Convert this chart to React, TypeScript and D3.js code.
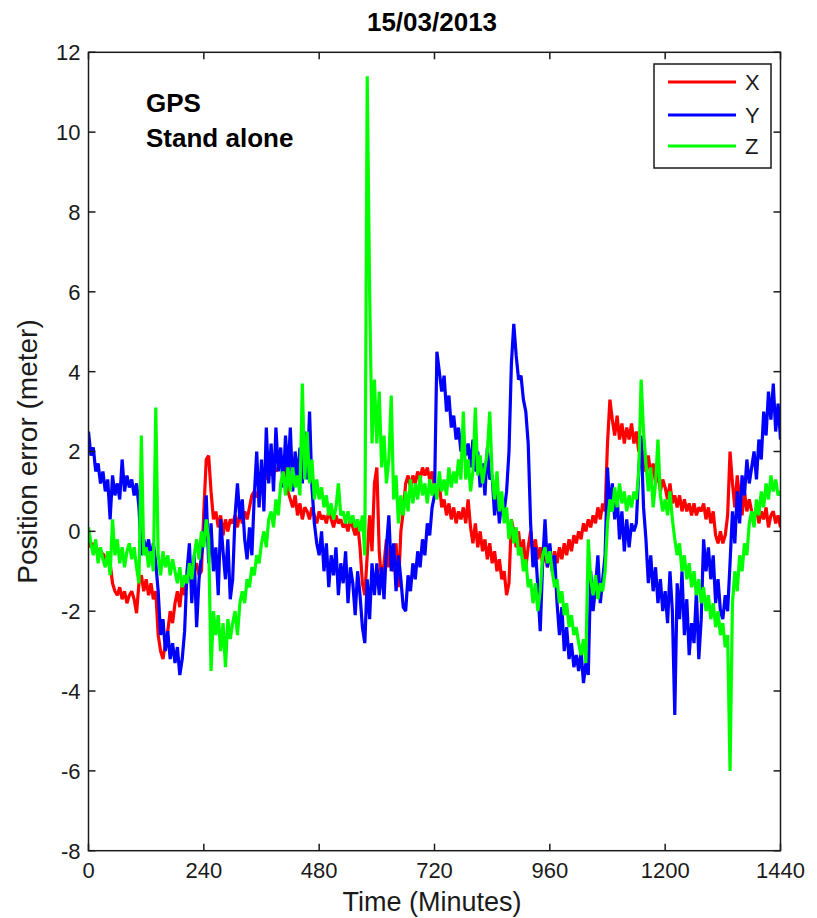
import React from "react";
import * as d3 from "d3";

// Sampling interval of the error series, in minutes
const STEP_MIN = 5;

// X component of the position error (m), one value every 5 minutes
const xErr = [
  -0.2, -0.4, -0.3, -0.5, -0.45, -0.6, -0.55, -0.7, -0.6, -0.8, -1.3, -1.5,
  -1.6, -1.4, -1.7, -1.5, -1.8, -1.6, -1.5, -1.7, -2.05, -1.3, -1.1, -1.5,
  -1.2, -1.6, -1.3, -1.7, -1.5, -2.6, -3.0, -3.2, -2.8, -2.5, -2.0, -2.3,
  -1.8, -1.5, -1.9, -1.3, -1.6, -1.2, -0.9, -1.2, -1.0, -0.8, -1.1, -1.0,
  0.5, 1.8, 1.9, 1.0, 0.3, 0.5, 0.1, 0.4, -0.1, 0.3, 0.0, 0.3,
  0.2, 0.4, 0.1, 0.5, 0.2, 0.5, 0.3, 0.6, 0.9, 1.0, 0.85, 1.1,
  1.3, 1.5, 1.3, 1.6, 1.4, 1.7, 1.5, 1.6, 1.9, 1.8, 1.6, 1.0,
  0.8, 0.6, 0.9, 0.4, 0.7, 0.3, 0.6, 0.5, 0.3, 0.6, 0.4, 0.2,
  0.5, 0.3, 0.4, 0.2, 0.5, 0.3, 0.1, 0.4, 0.2, 0.3, 0.1, 0.2,
  0.0, 0.3, 0.1, -0.1, 0.2, -0.4, -1.3, -1.6, -0.6, 0.4, -0.5, 1.2,
  1.6, -0.5, -1.3, -0.8, -0.2, -0.9, -0.4, -1.0, -0.3, -1.4, 0.0, 0.5,
  1.2, 1.4, 1.1, 1.4, 1.2, 1.5, 1.3, 1.6, 1.4, 1.6, 1.3, 1.5,
  1.1, 0.9, 1.2, 0.6, 0.8, 0.4, 0.7, 0.3, 0.6, 0.2, 0.5, 0.3,
  0.6, 0.2, 0.8, 0.1, -0.3, 0.2, -0.4, 0.0, -0.5, -0.2, -0.7, -0.3,
  -0.8, -0.5, -1.0, -0.7, -1.2, -1.0, -1.6, -1.3, 0.3, 0.0, -0.4, 0.0,
  -0.6, -0.2, -0.9, -0.4, 0.0, -0.5, -0.2, -0.7, -0.4, -0.8, -0.5, -0.9,
  -0.6, -0.9, -0.5, -0.8, -0.4, -0.7, -0.3, -0.6, -0.2, -0.5, -0.1, -0.3,
  0.0, -0.2, 0.2, 0.0, 0.3, 0.1, 0.4, 0.2, 0.6, 0.3, 0.7, 0.5,
  2.2, 3.3, 2.8, 2.4, 2.9, 2.3, 2.7, 2.2, 2.6, 2.3, 2.7, 2.2,
  2.5, 2.0, 2.3, 1.7, 1.5, 1.9, 1.4, 1.7, 1.2, 1.5, 1.0, 1.3,
  1.1, 0.8, 1.2, 0.7, 0.9, 0.6, 0.9, 0.5, 0.8, 0.5, 0.7, 0.4,
  0.7, 0.4, 0.6, 0.5, 0.7, 0.3, 0.6, 0.2, 0.5, -0.1, -0.3, 0.0,
  -0.3, -0.1, 0.4, 2.0, 1.2, 0.6, 1.4, 0.8, 0.4, 1.0, 0.5, 0.8,
  0.5, 0.3, 0.6, 0.2, 0.5, 0.3, 0.6, 0.1, 0.4, 0.5, 0.2, 0.4,
  0.1,
];

// Y component of the position error (m)
const yErr = [
  2.5, 1.9, 2.1, 1.5, 1.7, 1.2, 1.5, 1.0, 1.3, 0.3, 1.4, 0.9,
  1.2, 0.8, 1.8, 1.0, 1.4, 1.1, 1.3, 0.9, 1.2, 0.6, -0.6, -0.2,
  -0.5, -0.2, -0.7, -0.3, -0.8, -1.5, -2.6, -2.2, -3.0, -2.5, -3.2, -2.8,
  -3.3, -2.9, -3.6, -3.2, -2.5, -1.0, -0.3, -1.8, -0.6, -2.4, -1.2, -0.6,
  -0.2, 0.9, -0.8, 0.2, -1.0, -0.4, -1.6, 0.3, -0.5, -1.2, -0.2, -1.7,
  -1.2, 0.4, 1.2, 0.3, 0.8, -0.2, -0.7, 0.1, -0.6, 0.9, 2.0, 0.6,
  1.8, 0.5, 2.6, 1.2, 2.2, 1.0, 2.6, 1.5, 2.1, 1.1, 2.4, 1.4,
  2.6, 1.0, 2.0, 1.3, 2.1, 1.2, 2.5, 1.3, 3.0, 1.1, 0.2, -0.3,
  -0.6, 0.0, -1.0, -0.3, -1.4, -0.6, -1.1, -0.4, -1.6, -0.8, -1.3, -0.5,
  -1.8, -0.9, -1.3, -2.1, -1.0, -1.6, -2.4, -2.8, -1.2, -2.2, -0.8, -1.6,
  -0.8, -1.6, -0.9, -1.7, -0.4, 0.4, -1.0, -0.3, -1.5, -0.6, -1.2, -1.9,
  -2.0, -1.1, -1.5, -0.8, -1.2, -0.5, -0.9, -0.2, -0.6, 0.2, -0.1, 0.6,
  0.9, 4.5, 4.0, 3.5, 3.9, 3.0, 3.4, 2.6, 2.9, 2.3, 2.6, 2.0,
  2.4, 1.9, 2.2, 1.6, 2.3, 1.5, 2.0, 1.1, 1.7, 0.9, 2.1, 1.3,
  1.4, 0.4, 1.0, 0.2, 0.8, 0.5, 1.0, 2.0, 4.2, 5.2, 4.4, 3.8,
  3.9, 3.3, 3.0, 2.2, 0.2, -0.9, -0.4, -1.4, -2.5, -0.8, 0.3, -0.9,
  -0.3, -1.0, -0.6, -1.8, -2.6, -1.9, -3.0, -2.4, -3.2, -2.8, -3.4, -3.1,
  -3.5, -3.0, -3.8, -3.3, -3.6, -1.0, -2.0, -1.4, -0.6, -1.8, -1.2, -0.6,
  1.6, 0.5, 1.2, 0.3, 0.9, -0.2, 0.5, -0.5, 0.3, -0.4, 0.2, 0.0,
  0.2, 1.5, 2.4, 0.6, -0.2, -1.3, -0.6, -1.5, -0.9, -1.8, -1.2, -2.0,
  -1.5, -2.3, -1.0, -2.0, -4.6, -1.3, -2.2, -1.0, -2.6, -1.7, -3.1, -2.3,
  -2.8, -1.5, -3.2, -2.2, -0.2, -1.0, -0.4, -1.2, -0.6, -1.8, -1.2, -2.0,
  -2.2, -1.6, -2.0, -0.8, 0.5, -0.3, 1.0, 0.2, 1.4, 0.9, 1.8, 1.2,
  1.6, 2.0, 1.3, 2.3, 1.8, 3.0, 2.4, 3.5, 2.8, 3.7, 2.5, 3.2,
  2.3,
];

// Z component of the position error (m)
const zErr = [
  0.1, -0.3, -0.6, -0.2, -0.8, -0.4, -0.7, -0.9, -0.5, -1.1, 0.3, -0.6,
  -0.2, -0.8, -0.4, -0.9, -0.5, -0.3, -0.7, -0.4, -0.9, -1.3, 2.4, -0.6,
  -0.4, -0.9, -0.5, -1.0, 3.1, -0.6, -1.1, -0.5, -0.9, -0.6, -1.1, -0.7,
  -1.0, -1.3, -0.9, -1.4, -1.1, -1.3, -0.8, -1.2, -0.6, -0.2, -0.7, 0.0,
  -0.4, 0.3, -0.2, -3.5, -2.0, -2.6, -2.1, -3.0, -2.3, -3.4, -2.2, -2.7,
  -2.3, -2.0, -2.6, -1.8, -1.5, -1.8, -1.2, -1.4, -0.9, -1.1, -0.6, -0.8,
  -0.3, 0.0, -0.4, 0.3, 0.5, 0.1, 0.8, 0.4, 1.2, 1.5, 0.9, 1.6,
  1.0, 1.6, 1.1, 1.4, 0.9, 3.7, 1.3, 2.5, 1.2, 1.8, 0.8, 1.3,
  0.8, 1.1, 0.6, 0.9, 0.4, 0.7, 0.3, 0.6, 1.2, 0.4, 0.5, 0.2,
  0.5, 0.2, 0.4, 0.1, 0.3, 0.0, 0.4, -0.6, 11.4, 6.0, 2.2, 3.8,
  2.2, 3.5, 1.6, 2.4, 1.2, 1.8, 3.4, 0.8, 1.4, 0.2, 0.9, 0.4,
  1.0, 0.5, 1.3, 0.7, 1.2, 0.8, 1.4, 0.9, 1.2, 0.7, 1.3, 0.9,
  1.2, 0.8, 1.5, 1.0, 1.3, 0.9, 1.6, 1.1, 1.5, 1.2, 1.8, 1.3,
  3.0, 1.3, 1.8, 1.0, 1.5, 3.1, 1.4, 1.9, 1.2, 1.6, 2.0, 3.0,
  1.4, 0.8, 1.5, 0.5, 1.0, 0.2, 0.6, -0.2, 0.3, -0.3, 0.1, -0.6,
  -0.4, -1.0, -0.7, -1.4, -1.2, -1.8, -1.3, -2.0, -1.5, -0.6, -0.4, -0.8,
  -0.5, -1.0, -1.4, -1.2, -1.8, -1.5, -2.1, -1.8, -2.4, -2.1, -2.6, -2.4,
  -2.8, -3.1, -2.7, -3.3, -0.2, -1.2, -1.6, -1.1, -1.7, -1.3, -1.5, -1.0,
  0.2, 0.8, 0.5, 1.1, 0.6, 1.2, 0.7, 1.0, 0.5, 0.9, 0.6, 1.0,
  0.8, 1.5, 3.8, 2.5, 1.7, 1.0, 1.6, 0.6, 1.2, 2.3, 0.9, 0.5,
  0.8, 0.4, 1.0, 0.3, -0.2, -0.6, -0.3, -1.0, -0.6, -1.2, -0.8, -1.4,
  -1.0, -1.6, -1.2, -1.8, -1.4, -2.0, -1.6, -2.2, -1.8, -2.4, -2.0, -2.6,
  -2.3, -2.9, -2.6, -6.0, -1.8, -1.0, -1.5, -0.6, -1.0, -0.3, -0.6, 0.2,
  0.5, 0.1, 0.8, 0.4, 1.0, 0.6, 1.2, 0.8, 1.4, 1.0, 1.3, 0.9,
  1.0,
];

const seriesNames = ["X", "Y", "Z"];
const seriesColors = ["#ff0000", "#0000ff", "#00ff00"];
const xTicks = [0, 240, 480, 720, 960, 1200, 1440];
const yTicks = [-8, -6, -4, -2, 0, 2, 4, 6, 8, 10, 12];

const FONT = "'Liberation Sans', Arial, Helvetica, sans-serif";
const INK = "#1a1a1a";

export default function App() {
  const W = 817;
  const H = 918;
  const left = 88.5;
  const right = 780.5;
  const top = 52.3;
  const bottom = 850.7;
  const tickLen = 7;

  const x = d3.scaleLinear().domain([0, 1440]).range([left, right]);
  const y = d3.scaleLinear().domain([-8, 12]).range([bottom, top]);

  const line = d3
    .line<number>()
    .x((_, i) => x(i * STEP_MIN))
    .y((d) => y(d));

  const series = [xErr, yErr, zErr];

  // legend layout
  const lg = { x0: 654, y0: 64, x1: 771, y1: 168 };
  const legendRows = [82, 115, 146];

  return (
    <svg
      width={W}
      height={H}
      viewBox={`0 0 ${W} ${H}`}
      style={{ position: "absolute", left: 0, top: 0, background: "#fff" }}
      fontFamily={FONT}
    >
      <rect x={0} y={0} width={W} height={H} fill="#fff" />
      <defs>
        <clipPath id="plotClip">
          <rect x={left} y={top} width={right - left} height={bottom - top} />
        </clipPath>
      </defs>

      {/* error traces */}
      <g clipPath="url(#plotClip)" fill="none">
        {series.map((s, k) => (
          <path
            key={seriesNames[k]}
            d={line(s) || ""}
            stroke={seriesColors[k]}
            strokeWidth={3.2}
            strokeLinejoin="bevel"
          />
        ))}
      </g>

      {/* frame */}
      <rect
        x={left}
        y={top}
        width={right - left}
        height={bottom - top}
        fill="none"
        stroke={INK}
        strokeWidth={1.5}
      />

      {/* y ticks (left and right, inward) */}
      {yTicks.map((t) => (
        <g key={`y${t}`}>
          <line x1={left} x2={left + tickLen} y1={y(t)} y2={y(t)} stroke={INK} strokeWidth={1.5} />
          <line x1={right} x2={right - tickLen} y1={y(t)} y2={y(t)} stroke={INK} strokeWidth={1.5} />
          <text
            x={left - 8}
            y={y(t)}
            dy="0.36em"
            textAnchor="end"
            fontSize={22}
            fill={INK}
          >
            {t}
          </text>
        </g>
      ))}

      {/* x ticks (bottom and top, inward) */}
      {xTicks.map((t) => (
        <g key={`x${t}`}>
          <line x1={x(t)} x2={x(t)} y1={bottom} y2={bottom - tickLen} stroke={INK} strokeWidth={1.5} />
          <line x1={x(t)} x2={x(t)} y1={top} y2={top + tickLen} stroke={INK} strokeWidth={1.5} />
          <text x={x(t)} y={878} textAnchor="middle" fontSize={22} fill={INK}>
            {t}
          </text>
        </g>
      ))}

      {/* title and axis labels */}
      <text x={432} y={31} textAnchor="middle" fontSize={26} fontWeight="bold" fill="#000">
        15/03/2013
      </text>
      <text x={432} y={911} textAnchor="middle" fontSize={27} fill={INK}>
        Time (Minutes)
      </text>
      <text
        transform={`translate(37, ${(top + bottom) / 2}) rotate(-90)`}
        textAnchor="middle"
        fontSize={28}
        fill={INK}
      >
        Position error (meter)
      </text>

      {/* annotation */}
      <text x={146} y={112} fontSize={26} fontWeight="bold" fill="#000">
        GPS
      </text>
      <text x={146} y={147} fontSize={26} fontWeight="bold" fill="#000">
        Stand alone
      </text>

      {/* legend */}
      <rect
        x={lg.x0}
        y={lg.y0}
        width={lg.x1 - lg.x0}
        height={lg.y1 - lg.y0}
        fill="#fff"
        stroke={INK}
        strokeWidth={1.5}
      />
      {seriesNames.map((name, k) => (
        <g key={`lg${name}`}>
          <line
            x1={668}
            x2={736}
            y1={legendRows[k]}
            y2={legendRows[k]}
            stroke={seriesColors[k]}
            strokeWidth={3}
          />
          <text x={745} y={legendRows[k]} dy="0.36em" fontSize={22} fill={INK}>
            {name}
          </text>
        </g>
      ))}
    </svg>
  );
}
